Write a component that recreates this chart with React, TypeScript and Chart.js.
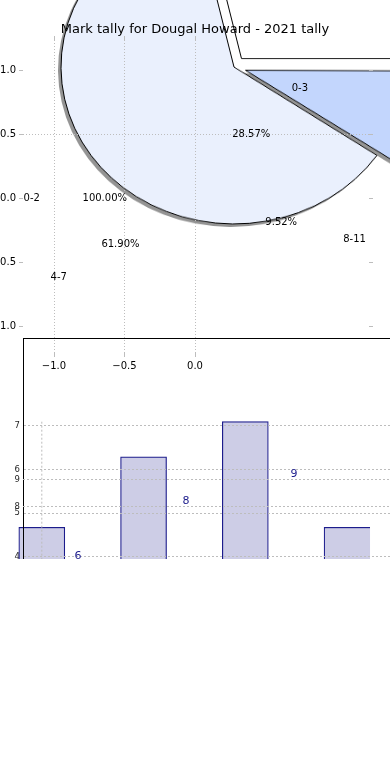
import React, { useEffect, useRef } from 'react';
import { Chart, registerables } from 'chart.js';

Chart.register(...registerables);

const FONT = "'DejaVu Sans', sans-serif";

// ---------- data ----------
const chartTitle = 'Mark tally for Dougal Howard - 2021 tally';
const pieCategories = ['0-3', '4-7', '8-11'];
const pieCounts = [6, 13, 2];
const pieCategories2 = ['0-2'];
const pieCounts2 = [1];
const pieXTicks = [-1, -0.5, 0];
const pieYTicks = [-1, -0.5, 0, 0.5, 1];
const pieYGrid = [0.5];
const barValues = [6, 8, 9, 6];
const barTicksOuter = [4, 5, 6, 7];
const barTicksInner = [8, 9];

// ---------- style ----------
const pieFill = ['#ffffff', '#eaf0fd', '#c3d6fd'];
const pieShadow = ['rgba(0,0,0,0)', 'rgba(0,0,0,0.42)', 'rgba(0,0,0,0.42)'];
const pieExplodePx = [12, 0, 12];
const GRID = '#bdbdbd';
const NAVY = '#1c1c8c';
const LABEL_DIST = 1.1;
const PCT_DIST = 0.64;

const fmt = (v: number) => (v < 0 ? '\u2212' + Math.abs(v).toFixed(1) : v.toFixed(1));

function PieLayer({ shadow }: { shadow: boolean }) {
  const ref = useRef<HTMLCanvasElement>(null);
  useEffect(() => {
    // Chart.js draws clockwise from 3 o'clock (rotation 90): reverse matplotlib's CCW order
    const order = pieCategories.map((_, i) => pieCategories.length - 1 - i);
    const chart = new Chart(ref.current!, {
      type: 'pie',
      data: {
        labels: order.map((i) => pieCategories[i]),
        datasets: [
          {
            data: order.map((i) => pieCounts[i]),
            backgroundColor: order.map((i) => (shadow ? pieShadow[i] : pieFill[i])),
            borderColor: shadow ? 'rgba(0,0,0,0)' : '#000',
            borderWidth: shadow ? 0 : 1,
            // Chart.js moves an arc by offset / 4 pixels
            offset: order.map((i) => pieExplodePx[i] * 4),
            hoverOffset: 0,
          },
        ],
      },
      options: {
        responsive: false,
        animation: false,
        events: [],
        rotation: 90,
        radius: 173,
        plugins: { legend: { display: false }, tooltip: { enabled: false }, title: { display: false } },
      } as any,
    });
    return () => chart.destroy();
  }, [shadow]);
  const left = shadow ? 31 : 34;
  const top = shadow ? -130 : -133;
  return (
    <div
      style={{
        position: 'absolute',
        left,
        top,
        width: 400,
        height: 400,
        transform: 'scaleY(0.907)',
        transformOrigin: '50% 50%',
      }}
    >
      <canvas ref={ref} width={400} height={400} style={{ display: 'block', width: 400, height: 400 }} />
    </div>
  );
}

function AxesLayer() {
  const ref = useRef<HTMLCanvasElement>(null);
  useEffect(() => {
    const pieText = {
      id: 'pieText',
      afterDraw(chart: any) {
        const { ctx } = chart;
        const xs = chart.scales.x;
        const ys = chart.scales.y;
        ctx.save();
        ctx.font = `10px ${FONT}`;
        ctx.fillStyle = '#000';
        ctx.textBaseline = 'middle';
        const drawPie = (cats: string[], counts: number[]) => {
          const total = counts.reduce((a, b) => a + b, 0);
          let theta = 0;
          cats.forEach((cat, i) => {
            const frac = counts[i] / total;
            const mid = ((theta + frac * 180) * Math.PI) / 180;
            theta += frac * 360;
            const c = Math.cos(mid);
            const s = Math.sin(mid);
            const lx = LABEL_DIST * c;
            const ly = LABEL_DIST * s;
            ctx.textAlign = lx > 0 ? 'left' : 'right';
            ctx.fillText(cat, xs.getPixelForValue(lx), ys.getPixelForValue(ly));
            ctx.textAlign = 'center';
            ctx.fillText(
              (frac * 100).toFixed(2) + '%',
              xs.getPixelForValue(PCT_DIST * c),
              ys.getPixelForValue(PCT_DIST * s)
            );
          });
        };
        drawPie(pieCategories, pieCounts);
        drawPie(pieCategories2, pieCounts2);
        ctx.restore();
      },
    };
    const tickFont = { family: FONT, size: 10 };
    const xRange = { min: -1.2199, max: 1.234 };
    const yRange = { min: -1.2109, max: 1.2344 };
    const chart = new Chart(ref.current!, {
      type: 'scatter',
      data: { datasets: [{ data: [] }] },
      options: {
        responsive: false,
        animation: false,
        events: [],
        layout: { padding: 0 },
        plugins: {
          legend: { display: false },
          tooltip: { enabled: false },
          title: {
            display: true,
            text: chartTitle,
            color: '#000',
            font: { family: FONT, size: 13, weight: 'normal' },
            padding: { top: 22, bottom: 0 },
          },
        },
        scales: {
          x: {
            type: 'linear',
            position: 'bottom',
            offset: false,
            ...xRange,
            afterBuildTicks: (s: any) => {
              s.ticks = pieXTicks.map((v) => ({ value: v }));
            },
            afterFit: (s: any) => {
              s.height = 27;
            },
            ticks: { font: tickFont, color: '#000', padding: 3, maxRotation: 0, autoSkip: false, callback: (v: any) => fmt(Number(v)) },
            grid: { color: GRID, lineWidth: 1, tickLength: 4, tickColor: GRID },
            border: { display: false, dash: [1, 2] },
          },
          xTop: {
            type: 'linear',
            position: 'top',
            offset: false,
            ...xRange,
            afterBuildTicks: (s: any) => {
              s.ticks = pieXTicks.map((v) => ({ value: v }));
            },
            afterFit: (s: any) => {
              s.height = 2.4;
            },
            ticks: { display: false },
            grid: { drawOnChartArea: false, tickLength: 4, tickColor: GRID },
            border: { display: false },
          },
          y: {
            type: 'linear',
            position: 'left',
            ...yRange,
            afterBuildTicks: (s: any) => {
              s.ticks = pieYTicks.map((v) => ({ value: v }));
            },
            afterFit: (s: any) => {
              s.width = 23;
            },
            ticks: { font: tickFont, color: '#000', padding: 3, autoSkip: false, callback: (v: any) => fmt(Number(v)) },
            grid: {
              color: (ctx: any) => (ctx.tick && pieYGrid.includes(ctx.tick.value) ? GRID : 'rgba(0,0,0,0)'),
              lineWidth: 1,
              tickLength: 4,
              tickColor: GRID,
            },
            border: { display: false, dash: [1, 2] },
          },
          yRight: {
            type: 'linear',
            position: 'right',
            ...yRange,
            afterBuildTicks: (s: any) => {
              s.ticks = pieYTicks.map((v) => ({ value: v }));
            },
            afterFit: (s: any) => {
              s.width = 21;
            },
            ticks: { display: false },
            grid: { drawOnChartArea: false, tickLength: 4, tickColor: GRID },
            border: { display: false },
          },
        },
      } as any,
      plugins: [pieText],
    });
    return () => chart.destroy();
  }, []);
  return (
    <div style={{ position: 'absolute', left: 0, top: 0, width: 390, height: 380 }}>
      <canvas ref={ref} width={390} height={380} style={{ display: 'block', width: 390, height: 380 }} />
    </div>
  );
}

function BarLayer() {
  const ref = useRef<HTMLCanvasElement>(null);
  useEffect(() => {
    const tickFontPx = 8.5;
    const extras = {
      id: 'barExtras',
      afterDatasetsDraw(chart: any) {
        const { ctx, chartArea, scales } = chart;
        const x = scales.xBar.getPixelForValue(0);
        const yTop = scales.yBar.getPixelForValue(Math.max(...barValues));
        ctx.save();
        ctx.strokeStyle = GRID;
        ctx.lineWidth = 1;
        ctx.setLineDash([2, 2]);
        ctx.beginPath();
        ctx.moveTo(x, yTop);
        ctx.lineTo(x, chartArea.bottom);
        ctx.stroke();
        ctx.restore();
      },
      afterDraw(chart: any) {
        const { ctx, scales, chartArea } = chart;
        ctx.save();
        // tick labels of the inner left axis
        ctx.font = `${tickFontPx}px ${FONT}`;
        ctx.fillStyle = '#262626';
        ctx.textAlign = 'right';
        ctx.textBaseline = 'middle';
        barTicksInner.forEach((v) => {
          ctx.fillText(String(v), chartArea.left - 3, scales.yB.getPixelForValue(v));
        });
        // value labels
        ctx.font = `11px ${FONT}`;
        ctx.fillStyle = NAVY;
        ctx.textAlign = 'center';
        ctx.textBaseline = 'bottom';
        barValues.forEach((v, i) => {
          ctx.fillText(String(v), scales.xLab.getPixelForValue(i), scales.yB.getPixelForValue(v));
        });
        ctx.restore();
      },
    };
    const tickFont = { family: FONT, size: tickFontPx };
    const chart = new Chart(ref.current!, {
      type: 'bar',
      data: {
        datasets: [
          {
            data: barValues.map((v, i) => ({ x: i, y: v })),
            xAxisID: 'xBar',
            yAxisID: 'yBar',
            backgroundColor: '#cdcde6',
            borderColor: NAVY,
            borderWidth: (ctx: any) =>
              ctx.dataIndex === barValues.length - 1 ? { top: 1.2, left: 1.2, right: 0, bottom: 0 } : 1.2,
            barThickness: 46,
            clip: false,
          },
        ],
      },
      options: {
        responsive: false,
        animation: false,
        events: [],
        layout: { padding: { top: 338, bottom: 41.5, left: 0, right: 0 } },
        plugins: { legend: { display: false }, tooltip: { enabled: false }, title: { display: false } },
        scales: {
          xBar: {
            type: 'linear',
            position: 'bottom',
            display: false,
            offset: false,
            grid: { offset: false },
            min: -0.1848,
            max: 3.815,
          },
          xLab: {
            type: 'linear',
            position: 'top',
            offset: false,
            min: -0.5093,
            max: 3.2593,
            afterFit: (s: any) => {
              s.height = 0;
            },
            ticks: { display: false },
            grid: { display: false, drawTicks: false, offset: false },
            border: { display: true, color: '#000', width: 1, z: 1 },
          },
          yBar: { type: 'linear', position: 'left', display: false, min: 0, max: 11.378 },
          yA: {
            type: 'linear',
            position: 'left',
            weight: 1,
            min: -0.163,
            max: 9.008,
            afterBuildTicks: (s: any) => {
              s.ticks = barTicksOuter.map((v) => ({ value: v }));
            },
            afterFit: (s: any) => {
              s.width = 23;
            },
            ticks: { font: tickFont, color: '#262626', padding: 3, autoSkip: false },
            grid: { color: GRID, lineWidth: 1, drawTicks: false, z: 1 },
            border: { display: true, color: '#000', width: 1, dash: [2, 2], z: 1 },
          },
          yB: {
            type: 'linear',
            position: 'left',
            weight: 0,
            min: -0.46,
            max: 14.157,
            afterBuildTicks: (s: any) => {
              s.ticks = barTicksInner.map((v) => ({ value: v }));
            },
            afterFit: (s: any) => {
              s.width = 0;
            },
            ticks: { display: false },
            grid: { color: GRID, lineWidth: 1, drawTicks: false, z: 1 },
            border: { display: false, dash: [2, 2], z: 1 },
          },
        },
      } as any,
      plugins: [extras],
    });
    return () => chart.destroy();
  }, []);
  return (
    <div style={{ position: 'absolute', left: 0, top: 0, width: 390, height: 559, overflow: 'hidden' }}>
      <canvas ref={ref} width={430} height={780} style={{ display: 'block', width: 430, height: 780 }} />
    </div>
  );
}

export default function App() {
  return (
    <div
      style={{
        position: 'absolute',
        left: 0,
        top: 0,
        width: 390,
        height: 780,
        overflow: 'hidden',
        background: '#fff',
      }}
    >
      <PieLayer shadow />
      <PieLayer shadow={false} />
      <BarLayer />
      <AxesLayer />
    </div>
  );
}
